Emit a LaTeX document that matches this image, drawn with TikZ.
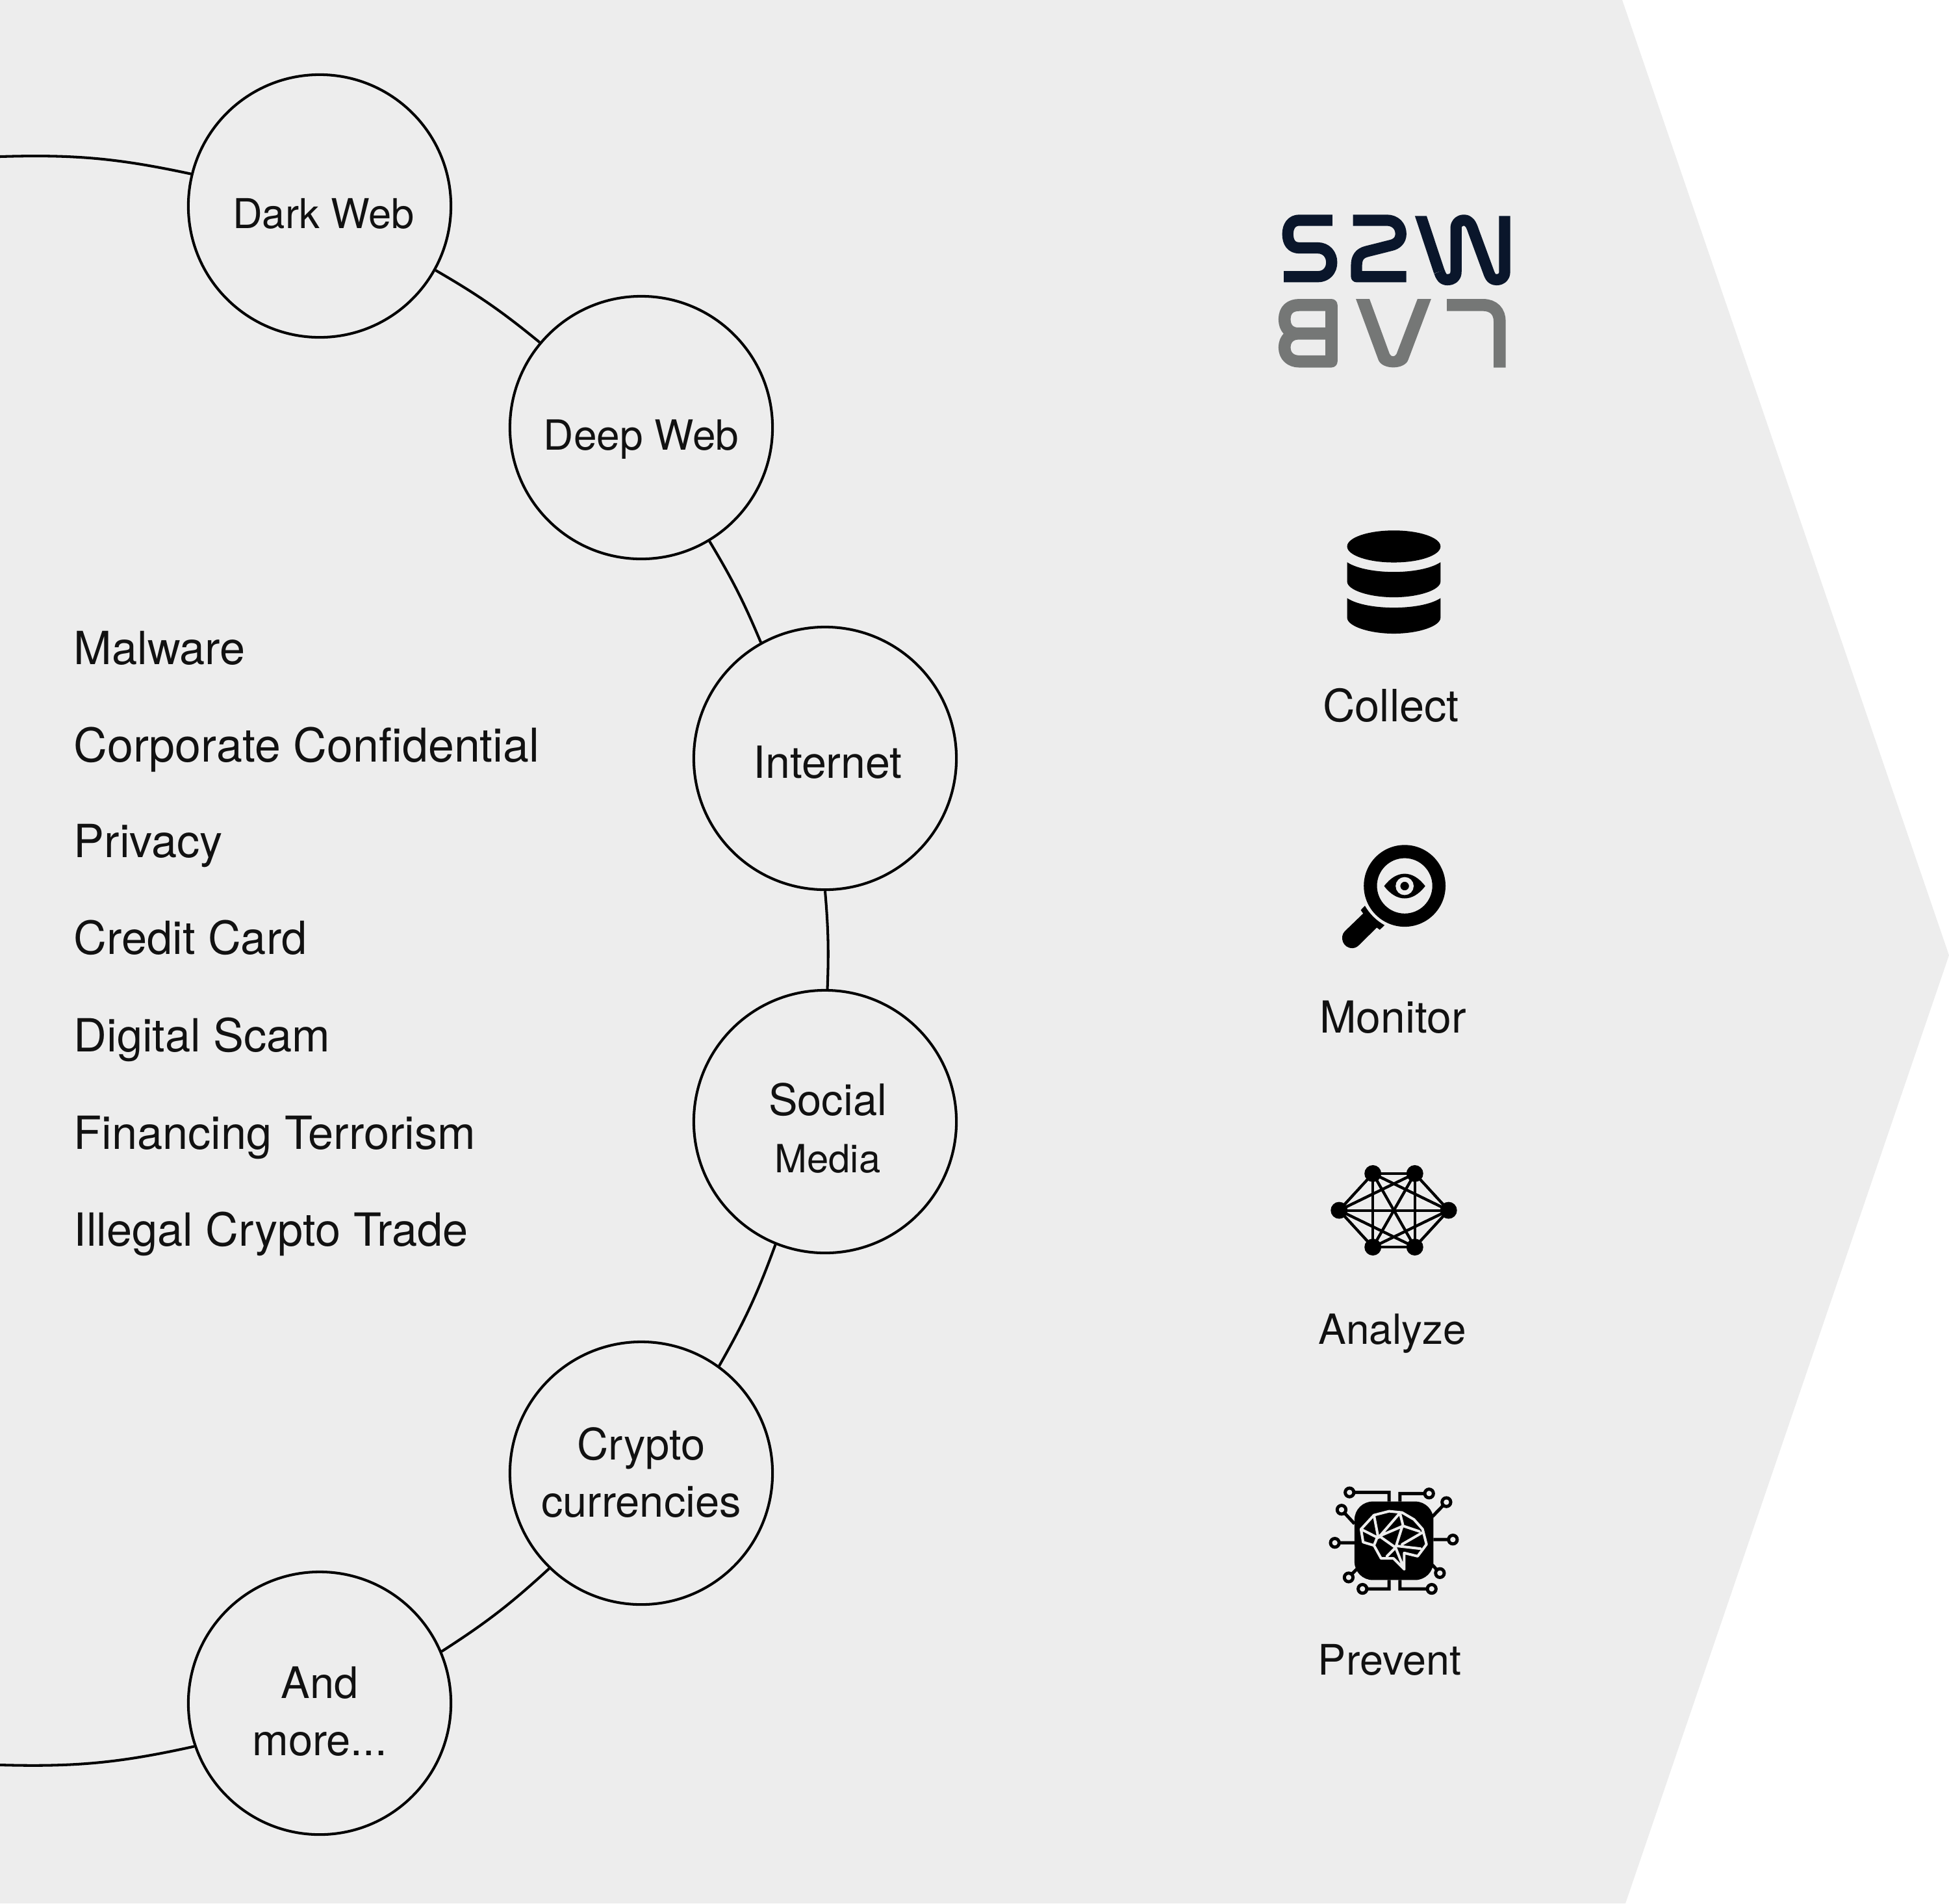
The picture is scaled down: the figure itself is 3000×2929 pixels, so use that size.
\documentclass[tikz,border=0pt]{standalone}
\usepackage{fontspec}
\setmainfont{TeX Gyre Heros}
\definecolor{panel}{HTML}{EDEDED}
\definecolor{ink}{HTML}{111111}
\definecolor{logodark}{HTML}{0A162B}
\definecolor{logogray}{HTML}{757776}
\newcommand{\fs}[1]{\fontsize{#1}{25}\selectfont}
\tikzset{
  hub/.style={circle,draw=black,line width=1.15pt,fill=panel,minimum size=4.04cm,inner sep=0pt,align=center,text=ink,font=\fs{19}},
  link/.style={draw=black,line width=1.15pt},
  listitem/.style={anchor=base west,inner sep=0pt,text=ink,font=\fs{20}},
  steplabel/.style={anchor=base,inner sep=0pt,text=ink,font=\fs{19}},
  zoomed/.style={shift={(#1)},x=0.003333cm,y=-0.003333cm},
}
\begin{document}
\begin{tikzpicture}[x=0.01cm,y=-0.01cm]
\useasboundingbox (0,0) rectangle (3000,2929);
\fill[panel] (0,0) -- (2497,0) -- (3000,1470) -- (2502,2929) -- (0,2929) -- cycle;
\coordinate (topend) at (0,241);
\coordinate (botend) at (0,2716);
\node[hub,font=\fs{18},text height=0.68cm,text depth=0pt] (dark) at (492,317) {\hspace*{0.12cm}Dark Web};
\node[hub,font=\fs{18.2},text height=0.68cm,text depth=0pt] (deep) at (987,658) {Deep Web};
\node[hub,font=\fs{19.4},text height=0.6cm,text depth=0pt] (inet) at (1270,1167) {\hspace*{0.08cm}Internet};
\node[hub,text height=1.56cm,text depth=0pt] (social) at (1270,1726) {\hspace*{0.08cm}Social\\\hspace*{0.08cm}{\fs{17}Media}};
\node[hub,text height=1.34cm,text depth=0pt] (crypto) at (987,2267) {Crypto\\currencies};
\node[hub,text height=1.6cm,text depth=0pt] (more) at (492,2621) {And\\more...};
\draw[link] (topend) to[bend left=6.9] (dark.166);
\draw[link] (dark.-29) to[bend left=4.6] (deep.140.8);
\draw[link] (deep.-59.3) to[bend left=4.1] (inet.119.2);
\draw[link] (inet.-90.5) to[bend left=3.5] (social.89.5);
\draw[link] (social.248.5) to[bend left=4.8] (crypto.54.5);
\draw[link] (crypto.226) to[bend left=4.9] (more.23.9);
\draw[link] (more.199.3) to[bend left=7] (botend);
\node[listitem] (l1) at (113,1022) {Malware};
\node[listitem,font=\fs{20.4}] (l2) at (113,1172) {Corporate Confidential};
\node[listitem] (l3) at (113,1319) {Privacy};
\node[listitem] (l4) at (113,1468) {Credit Card};
\node[listitem] (l5) at (113,1618) {Digital Scam};
\node[listitem] (l6) at (113,1768) {Financing Terrorism};
\node[listitem] (l7) at (113,1917) {Illegal Crypto Trade};
\node[steplabel,font=\fs{19.5}] (collect) at (2141,1110) {Collect};
\node[steplabel,font=\fs{19.3}] (monitor) at (2144,1589) {Monitor};
\node[steplabel,font=\fs{18.2}] (analyze) at (2143,2068) {Analyze};
\node[steplabel,font=\fs{18.4}] (prevent) at (2139,2577) {Prevent};
% logo
\begin{scope}[zoomed={1900,280}]
 \draw[logodark,line width=4.9pt,line join=round]
  (453,177) -- (300,177) .. controls (265,177) and (247,205) .. (247,241) .. controls (247,280) and (265,305) .. (300,305) -- (385,305) .. controls (425,305) and (450,335) .. (450,372) .. controls (450,410) and (425,438) .. (385,438) -- (229,438);
 \draw[logodark,line width=4.9pt,line join=round]
  (549,177) -- (705,177) .. controls (745,177) and (770,205) .. (770,240) .. controls (770,270) and (750,287) .. (725,293) -- (610,322) .. controls (580,330) and (565,350) .. (565,385) -- (565,438) -- (795,438);
 \fill[logodark] (835,157) -- (889,157) -- (972,407) -- (923,423) -- cycle;
 \draw[logodark,line width=4.9pt,line join=round]
  (948,415) .. controls (960,452) and (975,452) .. (985,452) .. controls (1010,452) and (1025,440) .. (1025,415) -- (1025,215) .. controls (1025,190) and (1040,177) .. (1062,177) .. controls (1085,177) and (1095,195) .. (1105,225) -- (1175,415) .. controls (1185,445) and (1195,452) .. (1212,452) .. controls (1235,452) and (1250,440) .. (1250,415) -- (1250,157);
 \draw[logogray,line width=5.3pt,line join=round]
  (449,701) -- (295,701) .. controls (260,701) and (232,680) .. (232,635) .. controls (232,590) and (260,569) .. (300,569) -- (449,569) -- (449,830) -- (300,830) .. controls (260,830) and (232,805) .. (232,765) .. controls (232,725) and (260,701) .. (295,701);
 \fill[logogray] (562,541) -- (665,820) .. controls (680,870) and (790,870) .. (805,820) -- (910,541) -- (847,541) -- (750,795) .. controls (742,810) and (725,810) .. (718,795) -- (625,541) -- cycle;
 \draw[logogray,line width=5.3pt]
  (983,569) -- (1150,569) .. controls (1200,569) and (1227,600) .. (1227,645) -- (1227,858);
\end{scope}
% database
\begin{scope}[zoomed={2000,780}]
 \fill[black] (437,183) ellipse [x radius=216,y radius=74];
 \fill[black] (221,256) .. controls (270,288) and (360,301) .. (437,301) .. controls (514,301) and (604,288) .. (653,256) -- (653,345) .. controls (653,385) and (550,418) .. (437,418) .. controls (324,418) and (221,385) .. (221,345) -- cycle;
 \fill[black] (221,422) .. controls (270,454) and (360,466) .. (437,466) .. controls (514,466) and (604,454) .. (653,422) -- (653,512) .. controls (653,552) and (550,586) .. (437,586) .. controls (324,586) and (221,552) .. (221,512) -- cycle;
\end{scope}
% magnifier
\begin{scope}[zoomed={2020,1270}]
 \fill[black,even odd rule] (427,280) circle [radius=189] (427,280) circle [radius=128];
 \fill[black] (332,281) .. controls (390,205) and (464,205) .. (522,281) .. controls (464,357) and (390,357) .. (332,281) -- cycle;
 \draw[panel,line width=2pt] (427,281) circle [radius=31];
 \fill[black] (243,372) -- (224,392) -- (235,408) -- (150,490) .. controls (125,515) and (140,568) .. (185,568) .. controls (200,568) and (210,560) .. (218,552) -- (298,473) -- (312,483) -- (334,462) .. controls (295,440) and (265,410) .. (243,372) -- cycle;
\end{scope}
% network
\begin{scope}[zoomed={2020,1760}]
 \foreach \p/\q in {280/138,474/138,124/308,630/308,280/478,474/478}{
  \fill[black] (\p,\q) circle [radius=39];
  \foreach \r/\s in {280/138,474/138,124/308,630/308,280/478,474/478}{
   \draw[black,line width=1.15pt] (\p,\q) -- (\r,\s);
  }
 }
\end{scope}
% brain chip
\begin{scope}[zoomed={2020,2260}]
 \fill[black,rounded corners=0.28cm] (195,152) rectangle (560,515);
 \draw[black,line width=1.4pt]
  (172,110) -- (355,110) -- (355,152)
  (540,115) -- (405,115) -- (405,152)
  (135,190) -- (195,255)
  (620,155) -- (555,222)
  (104,343) -- (195,343)
  (650,328) -- (560,328)
  (168,503) -- (205,465)
  (590,483) -- (555,445)
  (232,556) -- (355,556) -- (355,515)
  (552,556) -- (405,556) -- (405,515);
 \foreach \p/\q in {172/110,540/115,135/190,620/155,104/343,650/328,168/503,590/483,232/556,552/556}{
  \draw[black,fill=panel,line width=1.4pt] (\p,\q) circle [radius=20];
 }
 \draw[panel,line width=1.15pt,line join=round,line cap=round]
  (225,280) -- (285,215) -- (355,197) -- (415,203) -- (470,235) -- (510,280) -- (528,350) -- (487,405) -- (425,390) -- (425,465) -- (375,415) -- (318,415) -- (285,355) -- (235,340) -- cycle
  (285,215) -- (305,320) -- (405,205) -- (420,265) -- (495,290)
  (225,280) -- (300,318) -- (285,355)
  (420,265) -- (310,312) -- (385,365) -- (415,270)
  (385,365) -- (425,465)
  (385,365) -- (345,405)
  (510,295) -- (415,350)
  (395,358) -- (500,370);
\end{scope}
\end{tikzpicture}
\end{document}
